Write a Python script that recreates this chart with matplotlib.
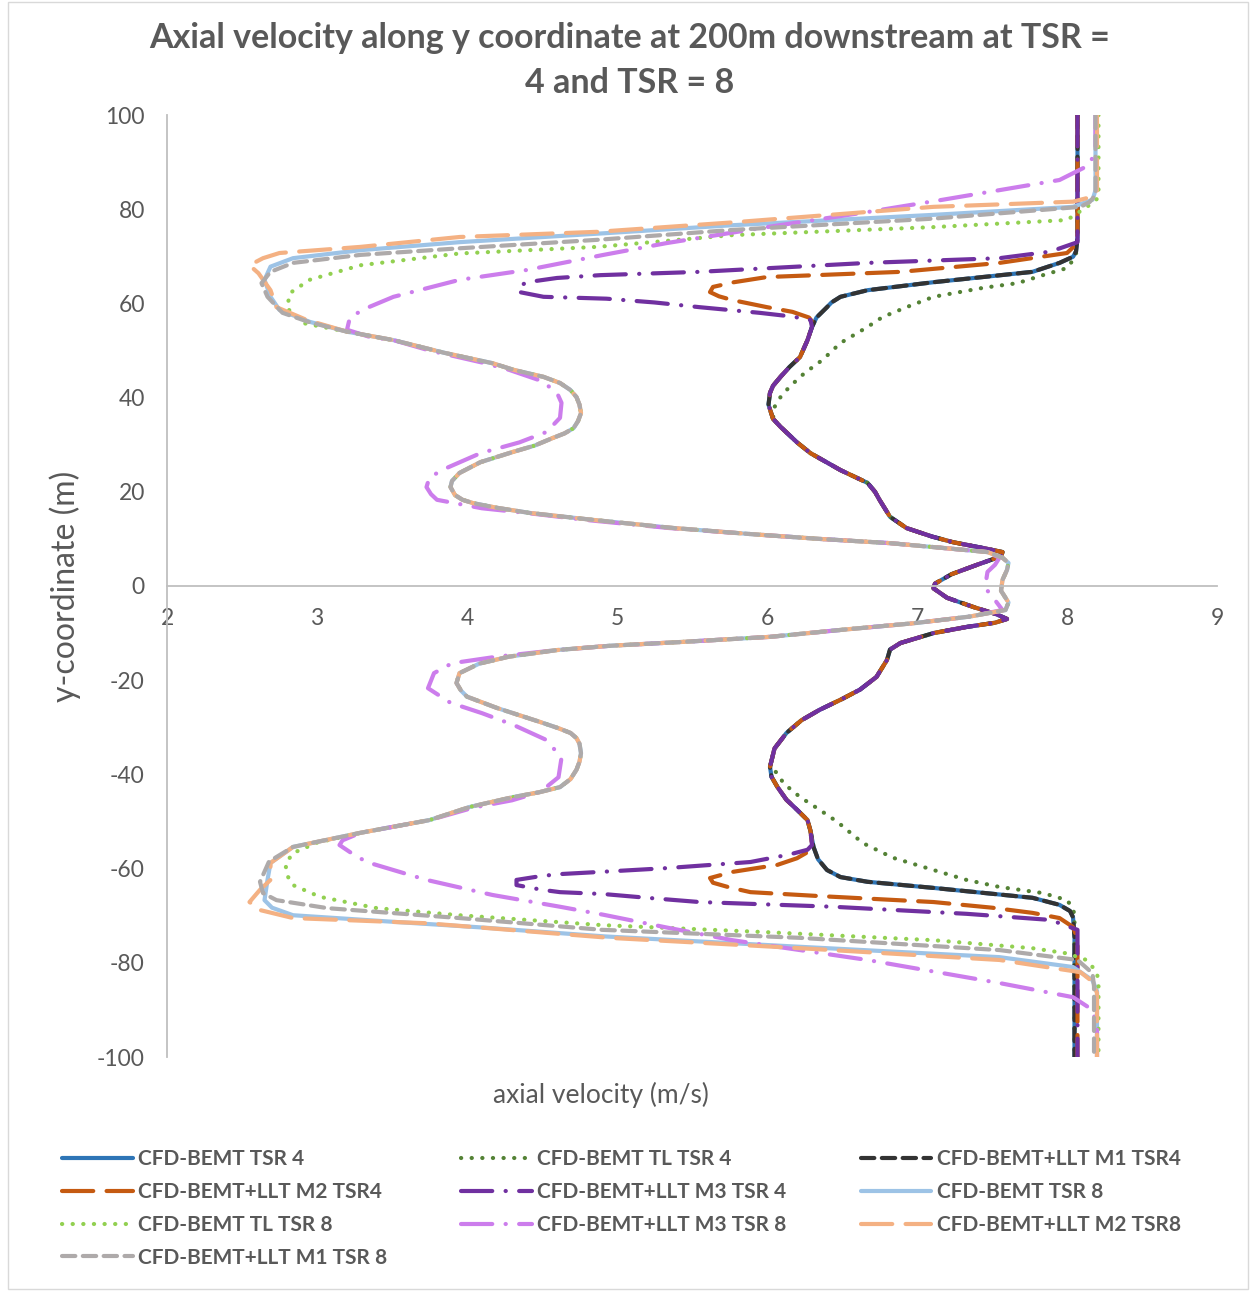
import matplotlib
matplotlib.use('Agg')
import matplotlib.pyplot as plt
from matplotlib.patches import Rectangle

plt.rcParams['font.family'] = ['Lato', 'DejaVu Sans']
plt.rcParams['axes.unicode_minus'] = False

# ---- data: (y-coordinate m, axial velocity m/s), top to bottom ----
# TSR 4 family
core4 = [(52.2, 6.27), (48.6, 6.22), (46.5, 6.15), (44.4, 6.09), (42.5, 6.04), (41.0, 6.02),
         (38.5, 6.01), (35.5, 6.04), (33.8, 6.09), (30.5, 6.20), (28.2, 6.29), (24.6, 6.49),
         (21.9, 6.67), (20.0, 6.72), (18.3, 6.75), (14.7, 6.82), (12.3, 6.93), (10.5, 7.10),
         (9.3, 7.24), (8.0, 7.45), (7.2, 7.57), (6.3, 7.56), (4.5, 7.40), (2.5, 7.23),
         (0.5, 7.12), (-0.5, 7.11), (-2.5, 7.20), (-4.5, 7.38), (-6.0, 7.53), (-7.0, 7.60),
         (-7.8, 7.52), (-8.7, 7.33), (-10.0, 7.11), (-12.1, 6.89), (-13.5, 6.82), (-15.7, 6.80),
         (-19.3, 6.73), (-22.0, 6.62), (-24.0, 6.50), (-26.3, 6.35), (-28.5, 6.23), (-31.2, 6.13),
         (-34.5, 6.05), (-38.4, 6.02), (-40.5, 6.03), (-42.7, 6.07), (-45.4, 6.13), (-47.5, 6.20),
         (-49.7, 6.27), (-52.0, 6.29)]
top_bemt4 = [(100, 8.07), (74, 8.07), (71.0, 8.06), (69.9, 8.04), (68.6, 7.95), (66.7, 7.77),
             (64.5, 7.11), (62.8, 6.67), (61.4, 6.49), (60.2, 6.43), (59.2, 6.40), (57.0, 6.33),
             (55.0, 6.30)]
bot_bemt4 = [(-55.4, 6.31), (-58.0, 6.34), (-60.3, 6.40), (-61.8, 6.49), (-62.8, 6.67),
             (-64.1, 7.11), (-66.2, 7.77), (-67.7, 7.95), (-69.0, 8.02), (-70.3, 8.04),
             (-74.5, 8.05), (-100, 8.05)]
top_m2_4 = [(100, 8.07), (75, 8.07), (72.5, 8.06), (70.7, 8.00), (68.6, 7.55), (66.7, 6.89),
            (66.0, 6.33), (65.6, 6.00), (64.5, 5.78), (63.5, 5.64), (62.4, 5.62), (61.5, 5.68),
            (60.7, 5.77), (59.2, 6.00), (58.2, 6.17), (57.0, 6.28), (55.8, 6.31), (55.0, 6.30)]
bot_m2_4 = [(-55.0, 6.30), (-56.7, 6.26), (-57.8, 6.20), (-59.2, 6.07), (-60.7, 5.77),
            (-62.0, 5.62), (-63.0, 5.64), (-64.0, 5.75), (-65.0, 5.89), (-65.8, 6.33),
            (-67.1, 7.11), (-68.3, 7.50), (-69.4, 7.77), (-70.5, 7.95), (-72.4, 8.04),
            (-75.0, 8.07), (-100, 8.07)]
top_m3_4 = [(100, 8.07), (77, 8.07), (73.0, 8.07), (71.0, 7.89), (69.6, 7.55), (68.6, 6.67),
            (66.7, 5.55), (66.0, 4.89), (65.4, 4.60), (64.5, 4.40), (63.5, 4.34), (62.4, 4.35),
            (61.4, 4.51), (61.0, 4.93), (60.2, 5.25), (59.2, 5.55), (58.0, 5.95), (57.2, 6.17),
            (56.5, 6.29), (55.0, 6.30)]
bot_m3_4 = [(-55.0, 6.30), (-56.0, 6.27), (-57.0, 6.15), (-58.6, 5.89), (-59.9, 5.33),
            (-60.7, 4.89), (-61.2, 4.60), (-61.7, 4.47), (-62.4, 4.33), (-63.5, 4.33),
            (-64.5, 4.50), (-65.0, 4.62), (-65.4, 4.91), (-66.2, 5.20), (-67.1, 5.55),
            (-68.1, 6.44), (-69.6, 7.33), (-70.9, 7.89), (-73.0, 8.07), (-81.5, 8.07), (-100, 8.07)]
top_tl4 = [(100, 8.07), (75, 8.07), (70.5, 8.06), (69.2, 8.04), (67.5, 8.00), (66.0, 7.84),
           (64.3, 7.67), (63.3, 7.44), (61.4, 7.11), (59.2, 6.93), (57.1, 6.77), (55.0, 6.67),
           (51.6, 6.49), (48.0, 6.37), (45.2, 6.25), (42.3, 6.15), (40.1, 6.09), (38.0, 6.05)]
bot_tl4 = [(-39.8, 6.07), (-41.9, 6.11), (-44.8, 6.22), (-47.5, 6.35), (-50.1, 6.47),
           (-52.5, 6.56), (-54.6, 6.64), (-57.7, 6.84), (-60.3, 7.11), (-62.4, 7.33),
           (-63.9, 7.55), (-65.2, 7.84), (-66.7, 8.00), (-68.4, 8.04), (-70.0, 8.05), (-100, 8.05)]

# TSR 8 family
core8 = [(52.2, 3.51), (49.5, 3.85), (47.3, 4.17), (45.9, 4.31), (44.4, 4.51), (43.1, 4.62),
         (41.6, 4.69), (40.1, 4.73), (38.5, 4.75), (36.7, 4.76), (35.0, 4.74), (33.5, 4.71),
         (32.4, 4.65), (31.4, 4.57), (29.8, 4.45), (28.5, 4.31), (26.3, 4.09), (24.0, 3.95),
         (22.3, 3.90), (21.0, 3.89), (19.3, 3.92), (18.3, 3.97), (17.6, 4.04), (16.6, 4.20),
         (15.5, 4.42), (14.0, 4.85), (12.3, 5.38), (11.0, 5.90), (10.0, 6.35), (9.1, 6.82),
         (8.0, 7.20), (7.2, 7.47), (6.0, 7.57), (4.9, 7.61), (3.4, 7.60), (1.3, 7.57),
         (-1.0, 7.56), (-3.5, 7.61), (-5.1, 7.59), (-6.5, 7.35), (-7.9, 6.98), (-9.3, 6.50),
         (-10.8, 6.02), (-11.9, 5.42), (-12.7, 4.95), (-13.6, 4.60), (-15.0, 4.28), (-16.5, 4.08),
         (-18.5, 3.95), (-20.6, 3.93), (-22.2, 3.96), (-23.5, 4.00), (-25.9, 4.20), (-28.9, 4.49),
         (-30.2, 4.61), (-31.2, 4.69), (-32.3, 4.73), (-33.5, 4.75), (-35.5, 4.76), (-37.3, 4.75),
         (-39.0, 4.73), (-41.0, 4.69), (-42.7, 4.62), (-43.8, 4.48), (-44.8, 4.31), (-46.9, 4.02),
         (-49.7, 3.75), (-52.4, 3.29)]
top_bemt8 = [(100, 8.19), (84, 8.19), (82.0, 8.17), (80.5, 8.04), (78.8, 7.11), (76.6, 5.77),
             (74.9, 4.92), (73.0, 3.95), (71.3, 3.29), (69.6, 2.84), (67.8, 2.69), (65.0, 2.65),
             (61.4, 2.69), (58.6, 2.75), (56.1, 2.95), (54.0, 3.20)]
bot_bemt8 = [(-55.4, 2.84), (-58.8, 2.69), (-62.4, 2.67), (-66.7, 2.65), (-68.3, 2.70),
             (-69.9, 2.84), (-71.3, 3.51), (-72.5, 4.10), (-74.4, 4.92), (-76.6, 6.22),
             (-78.8, 7.55), (-80.9, 8.04), (-83.7, 8.17), (-86.0, 8.20), (-100, 8.20)]
top_tl8 = [(100, 8.21), (82.5, 8.21), (81.3, 8.17), (77.7, 8.00), (76.2, 7.11), (74.5, 5.77),
           (72.0, 4.87), (70.6, 3.95), (68.1, 3.29), (65.0, 2.95), (62.2, 2.82), (59.0, 2.80),
           (55.8, 2.91), (54.0, 3.20)]
bot_tl8 = [(-54.5, 3.00), (-56.7, 2.84), (-59.0, 2.79), (-61.4, 2.80), (-63.5, 2.84),
           (-66.0, 3.02), (-68.4, 3.40), (-69.9, 3.95), (-72.0, 4.90), (-73.5, 6.00),
           (-75.2, 7.11), (-76.9, 7.77), (-78.0, 8.00), (-79.4, 8.13), (-82.0, 8.20),
           (-85.0, 8.21), (-100, 8.21)]
top_m1_8 = [(100, 8.19), (83, 8.19), (81.5, 8.15), (80.5, 8.09), (78.0, 7.11), (75.6, 5.77),
            (73.5, 4.87), (71.7, 3.95), (70.3, 3.29), (68.6, 2.84), (66.7, 2.69), (64.3, 2.63),
            (61.4, 2.67), (58.0, 2.77), (56.0, 2.95), (54.0, 3.20)]
bot_m1_8 = [(-55.4, 2.84), (-58.5, 2.68), (-62.8, 2.62), (-65.2, 2.64), (-66.7, 2.73),
            (-68.4, 3.07), (-70.5, 3.95), (-73.0, 4.90), (-74.7, 6.22), (-77.3, 7.55),
            (-79.4, 8.07), (-82.2, 8.17), (-85.0, 8.18), (-100, 8.18)]
top_m2_8 = [(100, 8.20), (84, 8.20), (82.5, 8.15), (81.6, 8.04), (80.5, 7.11), (77.2, 5.77),
            (75.2, 4.87), (74.1, 3.95), (72.0, 3.29), (70.7, 2.75), (69.6, 2.64), (68.1, 2.55),
            (66.4, 2.61), (62.8, 2.69), (59.2, 2.73), (56.5, 2.93), (54.0, 3.20)]
bot_m2_8 = [(-55.4, 2.84), (-58.8, 2.69), (-62.4, 2.69), (-64.5, 2.62), (-67.1, 2.55),
            (-68.8, 2.62), (-70.5, 2.84), (-71.6, 3.73), (-74.7, 4.95), (-76.9, 6.22),
            (-79.4, 7.55), (-82.0, 8.09), (-84.0, 8.17), (-86.4, 8.20), (-100, 8.20)]
m3_8 = [(100, 8.19), (92.6, 8.19), (89.4, 8.15), (86.2, 7.95), (82.0, 7.17), (79.4, 6.67),
        (76.2, 6.00), (72.8, 5.33), (70.3, 4.91), (67.1, 4.40), (65.0, 3.95), (61.4, 3.51),
        (59.0, 3.33), (57.1, 3.22), (54.4, 3.20), (52.9, 3.35), (52.2, 3.51), (50.0, 3.75),
        (47.3, 4.12), (45.9, 4.28), (43.5, 4.50), (41.0, 4.60), (38.9, 4.63), (35.7, 4.62),
        (32.7, 4.53), (30.5, 4.35), (28.2, 4.09), (25.0, 3.86), (23.1, 3.75), (21.0, 3.73),
        (19.5, 3.76), (18.3, 3.80), (16.5, 4.10), (15.5, 4.40), (14.0, 4.80), (12.3, 5.35),
        (11.0, 5.90), (10.0, 6.35), (9.1, 6.82), (8.0, 7.20), (7.2, 7.47), (6.0, 7.55),
        (4.5, 7.52), (3.0, 7.47), (1.0, 7.46), (-1.0, 7.47), (-3.0, 7.52), (-5.1, 7.57),
        (-6.5, 7.35), (-7.9, 6.98), (-9.3, 6.50), (-10.8, 6.02), (-11.9, 5.42), (-12.7, 4.95),
        (-13.6, 4.60), (-15.0, 4.20), (-16.4, 3.90), (-18.5, 3.78), (-21.7, 3.74), (-24.8, 3.89),
        (-27.0, 4.10), (-29.5, 4.31), (-32.7, 4.53), (-36.5, 4.63), (-40.6, 4.61), (-43.7, 4.49),
        (-45.5, 4.30), (-47.0, 4.05), (-49.7, 3.75), (-52.4, 3.29), (-54.0, 3.17), (-55.0, 3.15),
        (-56.5, 3.22), (-58.6, 3.33), (-62.4, 3.73), (-65.6, 4.17), (-68.1, 4.62), (-69.8, 4.91),
        (-72.5, 5.33), (-75.2, 5.77), (-79.4, 6.67), (-84.3, 7.55), (-87.3, 8.04), (-90.0, 8.17),
        (-93.6, 8.20), (-100, 8.20)]

core4_mid = [p for p in core4 if -38.5 < p[0] < 36]

dots = (0, (0.05, 2.5))
short_dash = (0, (3.2, 1.8))
long_dash = (0, (7.5, 3.2))
dash_dot = (0, (7.5, 3.2, 0.05, 3.2))

series = [
    ('CFD-BEMT TSR 4', top_bemt4 + core4 + bot_bemt4, '#2E75B6', '-'),
    ('CFD-BEMT TL TSR 4', top_tl4 + core4_mid + bot_tl4, '#548235', dots),
    ('CFD-BEMT+LLT M1 TSR4', top_bemt4 + core4 + bot_bemt4, '#333333', short_dash),
    ('CFD-BEMT+LLT M2 TSR4', top_m2_4 + core4 + bot_m2_4, '#C55A11', long_dash),
    ('CFD-BEMT+LLT M3 TSR 4', top_m3_4 + core4 + bot_m3_4, '#7030A0', dash_dot),
    ('CFD-BEMT TSR 8', top_bemt8 + core8 + bot_bemt8, '#9DC3E6', '-'),
    ('CFD-BEMT TL TSR 8', top_tl8 + core8 + bot_tl8, '#92D050', dots),
    ('CFD-BEMT+LLT M3 TSR 8', m3_8, '#CC7DEC', dash_dot),
    ('CFD-BEMT+LLT M2 TSR8', top_m2_8 + core8 + bot_m2_8, '#F4B183', long_dash),
    ('CFD-BEMT+LLT M1 TSR 8', top_m1_8 + core8 + bot_m1_8, '#AEAAAA', short_dash),
]

fig = plt.figure(figsize=(12.5, 12.91), dpi=100)
ax = fig.add_axes([167/1250, 1-1057/1291, 1050/1250, 942/1291])

handles = []
for name, pts, col, ls in series:
    yy = [p[0] for p in pts]
    vv = [p[1] for p in pts]
    h, = ax.plot(vv, yy, color=col, lw=3.0, linestyle=ls, label=name,
                 dash_capstyle='round', solid_capstyle='round', solid_joinstyle='round')
    handles.append(h)

ax.set_xlim(2, 9)
ax.set_ylim(-100, 100)
ax.set_xticks(range(2, 10))
ax.set_yticks(range(-100, 101, 20))
ax.spines['top'].set_visible(False)
ax.spines['right'].set_visible(False)
ax.spines['bottom'].set_position(('data', 0))
for s in ('left', 'bottom'):
    ax.spines[s].set_color('#BFBFBF')
    ax.spines[s].set_linewidth(1.3)
ax.tick_params(length=0, labelsize=16.5, labelcolor='#595959')
ax.tick_params(axis='x', pad=16)
ax.tick_params(axis='y', pad=16)

fig.text(65/1250, 1-586/1291, 'y-coordinate (m)', rotation=90, ha='center', va='center',
         fontsize=23, color='#595959')
fig.text(601/1250, 1-1095/1291, 'axial velocity (m/s)', ha='center', va='center',
         fontsize=19, color='#595959')
fig.text(630/1250, 1-38/1291, 'Axial velocity along y coordinate at 200m downstream at TSR =',
         ha='center', va='center', fontsize=24.5, fontweight='bold', color='#595959')
fig.text(630/1250, 1-83/1291, '4 and TSR = 8', ha='center', va='center',
         fontsize=24.5, fontweight='bold', color='#595959')

# Excel fills legend rows first; matplotlib fills columns first
order = [0, 3, 6, 9, 1, 4, 7, 2, 5, 8]
leg = fig.legend([handles[i] for i in order], [series[i][0] for i in order],
                 loc='upper left', bbox_to_anchor=(62/1250, 1-1149/1291), ncol=3,
                 frameon=False, fontsize=15, handlelength=3.4, handletextpad=0.25,
                 columnspacing=3.55, labelspacing=0.62, borderpad=0, borderaxespad=0)
for t in leg.get_texts():
    t.set_color('#595959')
    t.set_fontweight('bold')

fig.patches.append(Rectangle((8/1250, 2/1291), 1240/1250, 1287/1291, transform=fig.transFigure,
                             fill=False, edgecolor='#D9D9D9', lw=1))

fig.savefig('out.png', dpi=100)
